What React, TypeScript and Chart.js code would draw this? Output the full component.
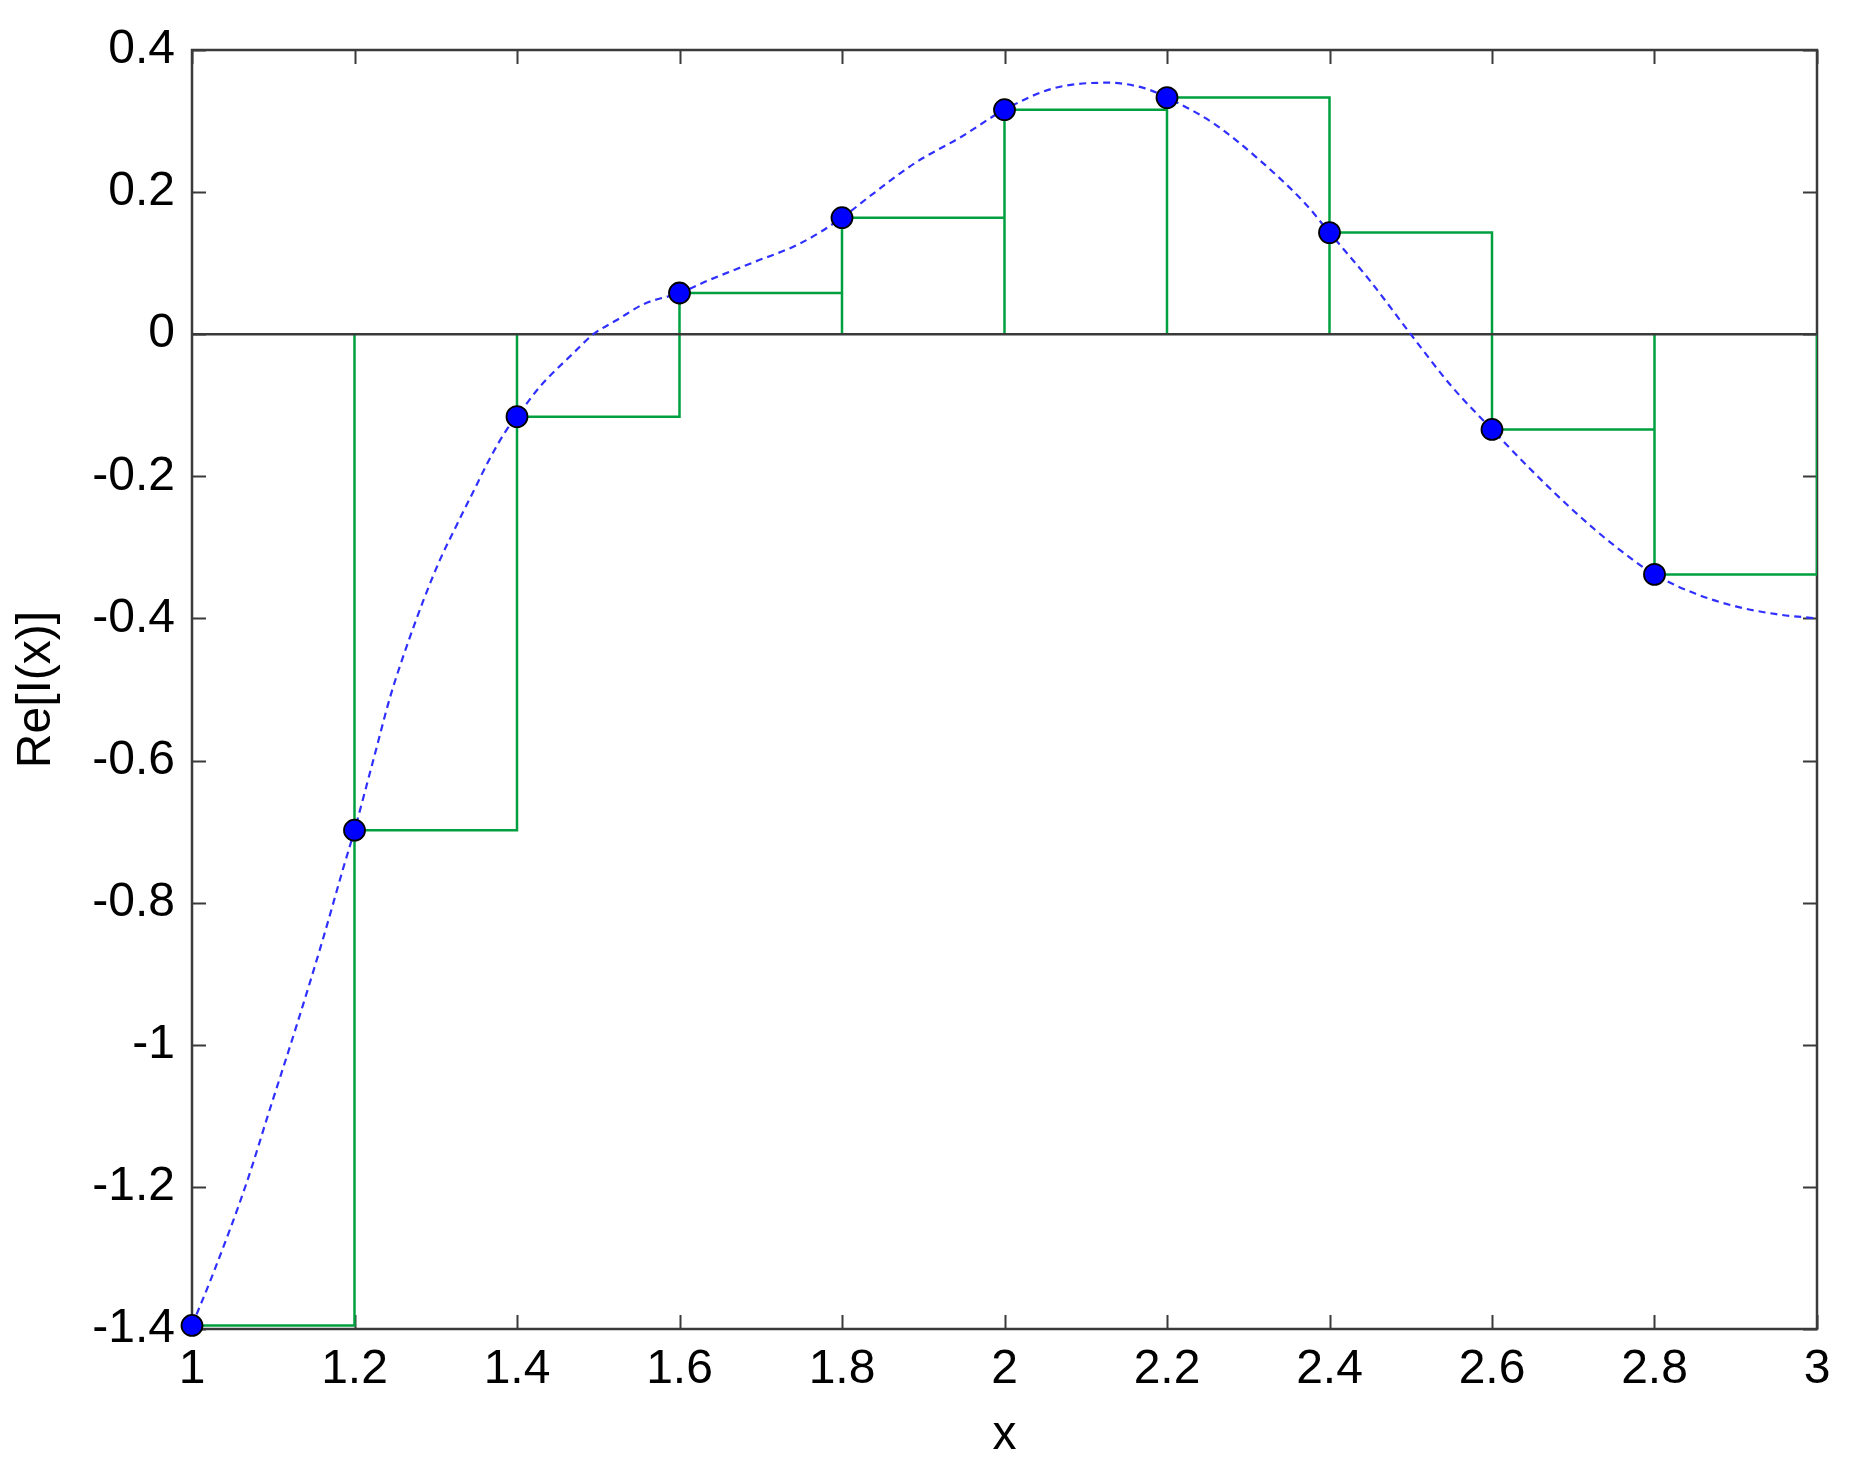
import React, { useEffect, useRef } from "react";
import { Chart, registerables } from "chart.js";

Chart.register(...registerables);

// Sample points (blue markers) and step/rectangle heights
const sampleX = [1.0, 1.2, 1.4, 1.6, 1.8, 2.0, 2.2, 2.4, 2.6, 2.8];
const sampleY = [-1.395, -0.698, -0.116, 0.058, 0.164, 0.316, 0.333, 0.143, -0.134, -0.338];
const stepEndX = 3.0;

// Dashed reference curve
const curveX = [
  1.0, 1.026, 1.067, 1.096, 1.129, 1.162, 1.186, 1.2, 1.223, 1.244, 1.264, 1.285, 1.305, 1.326,
  1.346, 1.367, 1.387, 1.4, 1.428, 1.469, 1.494, 1.523, 1.557, 1.6, 1.636, 1.693, 1.749, 1.8,
  1.834, 1.89, 1.947, 2.0, 2.06, 2.128, 2.173, 2.2, 2.257, 2.314, 2.37, 2.4, 2.45, 2.5,
  2.55, 2.6, 2.65, 2.7, 2.75, 2.8, 2.85, 2.9, 2.95, 3.0,
];
const curveY = [
  -1.395, -1.322, -1.195, -1.09, -0.972, -0.848, -0.752, -0.698, -0.6, -0.51, -0.44, -0.374,
  -0.318, -0.268, -0.222, -0.174, -0.135, -0.116, -0.074, -0.027, 0.0, 0.02, 0.043, 0.058,
  0.076, 0.102, 0.128, 0.164, 0.194, 0.241, 0.278, 0.316, 0.346, 0.354, 0.346, 0.333, 0.297,
  0.245, 0.184, 0.143, 0.075, 0.0, -0.073, -0.134, -0.193, -0.248, -0.297, -0.338, -0.365,
  -0.383, -0.394, -0.4,
];

const xTicks = [1, 1.2, 1.4, 1.6, 1.8, 2, 2.2, 2.4, 2.6, 2.8, 3];
const yTicks = [-1.4, -1.2, -1, -0.8, -0.6, -0.4, -0.2, 0, 0.2, 0.4];

const FONT = "'Liberation Sans', Arial, sans-serif";
const AXIS_COLOR = "#3a3a3a";

const boxPlugin = {
  id: "matlabBox",
  beforeDatasetsDraw(chart: any) {
    const { ctx, chartArea } = chart;
    const xs = chart.scales.x;
    const ys = chart.scales.y;
    const { left, right, top, bottom } = chartArea;
    ctx.save();
    ctx.strokeStyle = AXIS_COLOR;
    ctx.lineWidth = 2;
    ctx.beginPath();
    const tl = 14;
    xTicks.forEach((v) => {
      const px = Math.round(xs.getPixelForValue(v)) + 0.5;
      ctx.moveTo(px, bottom);
      ctx.lineTo(px, bottom - tl);
      ctx.moveTo(px, top);
      ctx.lineTo(px, top + tl);
    });
    yTicks.forEach((v) => {
      const py = Math.round(ys.getPixelForValue(v)) + 0.5;
      ctx.moveTo(left, py);
      ctx.lineTo(left + tl, py);
      ctx.moveTo(right, py);
      ctx.lineTo(right - tl, py);
    });
    ctx.stroke();
    ctx.lineWidth = 2.5;
    ctx.strokeRect(left, top, right - left, bottom - top);
    ctx.restore();
  },
};

export default function App() {
  const ref = useRef<HTMLCanvasElement | null>(null);

  useEffect(() => {
    if (!ref.current) return;

    // Outline of rectangles (left-point rule); the first left edge lies on the axis
    const stepPts: { x: number; y: number }[] = [];
    for (let i = 0; i < sampleX.length; i++) {
      const x0 = sampleX[i];
      const x1 = i + 1 < sampleX.length ? sampleX[i + 1] : stepEndX;
      if (i > 0) stepPts.push({ x: x0, y: 0 });
      stepPts.push({ x: x0, y: sampleY[i] });
      stepPts.push({ x: x1, y: sampleY[i] });
      stepPts.push({ x: x1, y: 0 });
    }

    const chart = new Chart(ref.current, {
      type: "scatter",
      data: {
        datasets: [
          {
            label: "samples",
            data: sampleX.map((x, i) => ({ x, y: sampleY[i] })),
            showLine: false,
            pointRadius: 10.5,
            pointBackgroundColor: "#0000ff",
            pointBorderColor: "#000000",
            pointBorderWidth: 1.8,
            order: 0,
            clip: false as any,
          },
          {
            label: "curve",
            data: curveX.map((x, i) => ({ x, y: curveY[i] })),
            showLine: true,
            borderColor: "#2f2fff",
            borderWidth: 2.2,
            borderDash: [7, 5],
            pointRadius: 0,
            cubicInterpolationMode: "monotone",
            order: 1,
          },
          {
            label: "zero",
            data: [
              { x: 1, y: 0 },
              { x: 3, y: 0 },
            ],
            showLine: true,
            borderColor: AXIS_COLOR,
            borderWidth: 2.5,
            pointRadius: 0,
            order: 2,
          },
          {
            label: "steps",
            data: stepPts,
            showLine: true,
            borderColor: "#00a040",
            borderWidth: 2.5,
            pointRadius: 0,
            tension: 0,
            order: 3,
          },
        ],
      },
      options: {
        animation: false,
        responsive: false,
        maintainAspectRatio: false,
        layout: { padding: { top: 42, right: 31, left: 0, bottom: 0 } },
        plugins: {
          legend: { display: false },
          tooltip: { enabled: false },
        },
        scales: {
          x: {
            type: "linear",
            min: 1,
            max: 3,
            grid: { display: false, drawTicks: false, tickLength: 0 },
            border: { display: false },
            afterBuildTicks: (scale: any) => {
              scale.ticks = xTicks.map((v) => ({ value: v }));
            },
            afterFit: (scale: any) => {
              scale.height = 139;
            },
            ticks: {
              color: "#000",
              padding: 17,
              maxRotation: 0,
              autoSkip: false,
              font: { family: FONT, size: 48, lineHeight: 1 },
              callback: (v: any) => String(Math.round(Number(v) * 10) / 10),
            },
            title: {
              display: true,
              text: "x",
              color: "#000",
              font: { family: FONT, size: 48 },
              padding: { top: 0, bottom: 3 },
            },
          },
          y: {
            type: "linear",
            min: -1.4,
            max: 0.4,
            grid: { display: false, drawTicks: false, tickLength: 0 },
            border: { display: false },
            afterBuildTicks: (scale: any) => {
              scale.ticks = yTicks.map((v) => ({ value: v }));
            },
            afterFit: (scale: any) => {
              scale.width = 184;
            },
            ticks: {
              color: "#000",
              padding: 17,
              autoSkip: false,
              font: { family: FONT, size: 48, lineHeight: 0.5 },
              callback: (v: any) => String(Math.round(Number(v) * 10) / 10),
            },
            title: {
              display: true,
              text: "Re[I(x)]",
              color: "#000",
              font: { family: FONT, size: 48 },
              padding: { top: 0, bottom: 0 },
            },
          },
        },
      },
      plugins: [boxPlugin],
    });

    return () => chart.destroy();
  }, []);

  return (
    <div style={{ width: 1840, height: 1460, background: "#fff" }}>
      <canvas ref={ref} width={1840} height={1460} style={{ display: "block", width: 1840, height: 1460 }} />
    </div>
  );
}
